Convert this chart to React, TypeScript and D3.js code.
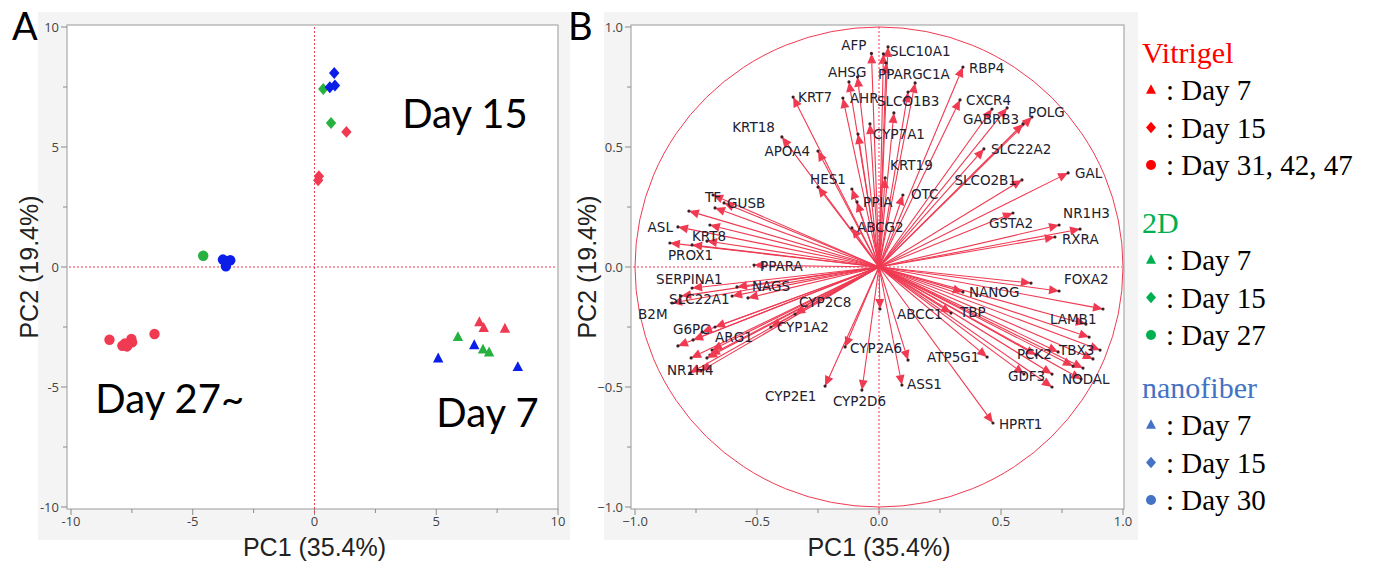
import React from "react";
import * as d3 from "d3";

type Pt = [number, number];

// ---------- Panel A: PCA scores ----------
const vitrigelDay7: Pt[] = [[6.77, -2.3], [6.95, -2.54], [7.82, -2.57]];
const vitrigelDay15: Pt[] = [[1.31, 5.63], [0.18, 3.78], [0.15, 3.61]];
const vitrigelLate: Pt[] = [[-8.42, -3.03], [-7.89, -3.28], [-7.7, -3.31], [-7.52, -3.0], [-7.49, -3.14], [-7.79, -3.19], [-6.57, -2.79]];
const twoDDay7: Pt[] = [[5.89, -2.92], [6.92, -3.44], [7.17, -3.56]];
const twoDDay15: Pt[] = [[0.36, 7.42], [0.68, 6.0]];
const twoDDay27: Pt[] = [[-4.57, 0.47]];
const nanoDay7: Pt[] = [[5.08, -3.81], [6.56, -3.26], [8.35, -4.17]];
const nanoDay15: Pt[] = [[0.81, 8.08], [0.63, 7.49], [0.84, 7.56]];
const nanoDay30: Pt[] = [[-3.76, 0.31], [-3.46, 0.28], [-3.64, 0.03], [-3.58, 0.24]];

const scoreTicks = [-10, -5, 0, 5, 10];
const scoreMinor = [-7.5, -2.5, 2.5, 7.5];
const clusterLabels = ["Day 15", "Day 27~", "Day 7"];

// ---------- Panel B: loadings ----------
const genes: string[] = [
  "AFP", "SLC10A1", "", "", "PPARGC1A", "", "AHSG", "", "KRT7", "AHR",
  "SLCO1B3", "CYP7A1", "", "KRT18", "APOA4", "KRT19", "HES1", "", "PPIA", "ABCG2",
  "OTC", "RBP4", "CXCR4", "GABRB3", "", "POLG", "", "SLC22A2", "SLCO2B1", "GAL",
  "GSTA2", "NR1H3", "RXRA", "", "TF", "", "GUSB", "", "ASL", "",
  "KRT8", "", "PROX1", "PPARA", "SERPINA1", "NAGS", "", "SLC22A1", "", "B2M",
  "CYP2C8", "CYP1A2", "G6PC", "", "", "", "ARG1", "", "", "",
  "NR1H4", "", "CYP2A6", "CYP2E1", "CYP2D6", "ABCC1", "", "ASS1", "ATP5G1", "TBP",
  "NANOG", "", "FOXA2", "", "LAMB1", "", "TBX3", "", "", "PCK2",
  "NODAL", "", "", "GDF3", "", "", "HPRT1",
];
const loadPC1: number[] = [
  -0.031, 0.037, 0.018, 0.029, 0.148, 0.119, -0.123, -0.088, -0.352, -0.148,
  0.061, -0.037, -0.086, -0.398, -0.25, 0.025, -0.25, -0.111, -0.09, -0.111,
  0.098, 0.344, 0.332, 0.463, 0.525, 0.627, 0.59, 0.43, 0.586, 0.775,
  0.549, 0.738, 0.721, 0.824, -0.68, -0.672, -0.635, -0.779, -0.824, -0.693,
  -0.705, -0.766, -0.857, -0.512, -0.766, -0.582, -0.537, -0.602, -0.811, -0.848,
  -0.344, -0.443, -0.672, -0.725, -0.762, -0.824, -0.684, -0.693, -0.705, -0.77,
  -0.73, -0.775, -0.139, -0.221, -0.07, 0.004, 0.119, 0.094, 0.443, 0.295,
  0.344, 0.623, 0.738, 0.918, 0.848, 0.861, 0.906, 0.877, 0.734, 0.643,
  0.836, 0.795, 0.828, 0.594, 0.709, 0.709, 0.467,
];
const loadPC2: number[] = [
  0.89, 0.917, 0.888, 0.85, 0.767, 0.729, 0.771, 0.792, 0.708, 0.704,
  0.642, 0.596, 0.554, 0.542, 0.483, 0.371, 0.333, 0.325, 0.271, 0.163,
  0.3, 0.833, 0.696, 0.658, 0.663, 0.625, 0.596, 0.492, 0.363, 0.392,
  0.225, 0.175, 0.125, 0.158, 0.3, 0.246, 0.267, 0.233, 0.167, 0.175,
  0.108, 0.092, 0.1, 0.008, -0.088, -0.083, -0.129, -0.121, -0.121, -0.15,
  -0.196, -0.25, -0.25, -0.271, -0.304, -0.329, -0.346, -0.367, -0.379, -0.379,
  -0.433, -0.442, -0.333, -0.496, -0.513, -0.175, -0.388, -0.492, -0.375, -0.192,
  -0.104, -0.067, -0.1, -0.175, -0.238, -0.292, -0.346, -0.383, -0.354, -0.367,
  -0.421, -0.413, -0.467, -0.446, -0.446, -0.5, -0.65,
];
const loadTicks = [-1, -0.5, 0, 0.5, 1];
const loadMinor = [-0.75, -0.25, 0.25, 0.75];

// label placement (pixel offsets from arrow tip) – layout only
const labelLayout: Record<string, [number, number, "start" | "end"]> = {
  AFP: [-5, -8, "end"], SLC10A1: [2, 4, "start"], PPARGC1A: [-37, -9, "start"],
  AHSG: [-21, -10, "start"], KRT7: [5, 0, "start"], AHR: [7, 0, "start"],
  SLCO1B3: [-17, -12, "start"], CYP7A1: [3, 10, "start"], KRT18: [-7, -10, "end"],
  APOA4: [-8, 0, "end"], KRT19: [5, -13, "start"], HES1: [-8, -8, "start"],
  PPIA: [6, 0, "start"], ABCG2: [5, -1, "start"], OTC: [8, -1, "start"],
  RBP4: [6, 1, "start"], CXCR4: [6, 0, "start"], GABRB3: [-29, 10, "start"],
  POLG: [-4, -5, "start"], SLC22A2: [7, 0, "start"], SLCO2B1: [-5, 0, "end"],
  GAL: [7, 0, "start"], GSTA2: [-24, 10, "start"], NR1H3: [4, -12, "start"],
  RXRA: [7, 2, "start"], TF: [-8, 2, "start"], GUSB: [3, 0, "start"],
  ASL: [-5, 0, "end"], KRT8: [-15, -5, "start"], PROX1: [-2, 12, "start"],
  PPARA: [6, 1, "start"], SERPINA1: [-36, -9, "start"], NAGS: [15, -1, "start"],
  SLC22A1: [-63, 3, "start"], B2M: [-34, 11, "start"], CYP2C8: [4, -12, "start"],
  CYP1A2: [6, 0, "start"], G6PC: [-42, 2, "start"], ARG1: [3, -13, "start"],
  NR1H4: [-34, -1, "start"], CYP2A6: [5, 1, "start"], CYP2E1: [-60, 10, "start"],
  CYP2D6: [-29, 11, "start"], ABCC1: [17, 5, "start"], ASS1: [5, -1, "start"],
  ATP5G1: [-60, 0, "start"], TBP: [9, -1, "start"], NANOG: [6, 0, "start"],
  FOXA2: [5, -12, "start"], LAMB1: [-36, -5, "start"], TBX3: [-41, 0, "start"],
  PCK2: [-19, -1, "start"], NODAL: [-21, 11, "start"], GDF3: [-16, 2, "start"],
  HPRT1: [6, 1, "start"],
};

// ---------- Legend ----------
const legendGroups = ["Vitrigel", "2D", "nanofiber"];
const legendItems: string[][] = [
  ["Day 7", "Day 15", "Day 31, 42, 47"],
  ["Day 7", "Day 15", "Day 27"],
  ["Day 7", "Day 15", "Day 30"],
];

const RED = "#ef3a52";
const GREEN = "#27b141";
const BLUE = "#0a1ee8";
const LEG_COLORS = ["#ff0000", "#00b050", "#4472c4"];
const TICK_FONT = "'Open Sans', sans-serif";
const TITLE_FONT = "'Liberation Sans', Arial, sans-serif";

function Marker({ shape, x, y, r, fill }: { shape: string; x: number; y: number; r: number; fill: string }) {
  if (shape === "circle") return <circle cx={x} cy={y} r={r} fill={fill} />;
  if (shape === "diamond")
    return <path d={`M${x},${y - r * 1.15}L${x + r},${y}L${x},${y + r * 1.15}L${x - r},${y}Z`} fill={fill} />;
  const h = r * 1.9;
  return <path d={`M${x},${y - h * 0.6}L${x + r},${y + h * 0.4}L${x - r},${y + h * 0.4}Z`} fill={fill} />;
}

export default function App() {
  // Panel A scales
  const ax = d3.scaleLinear().domain([-10, 10]).range([71, 558]);
  const ay = d3.scaleLinear().domain([-10, 10]).range([507, 27]);
  // Panel B scales
  const bx = d3.scaleLinear().domain([-1, 1]).range([635, 1123]);
  const by = d3.scaleLinear().domain([-1, 1]).range([507, 27]);

  const aFrame = { x0: ax(-10) - 4, x1: ax(10), y0: ay(10) - 2, y1: ay(-10) + 2 };
  const bFrame = { x0: bx(-1) - 4, x1: bx(1) + 1, y0: by(1) - 2, y1: by(-1) + 2 };

  const scoreSeries: { pts: Pt[]; shape: string; color: string }[] = [
    { pts: vitrigelDay7, shape: "triangle", color: RED },
    { pts: vitrigelDay15, shape: "diamond", color: RED },
    { pts: vitrigelLate, shape: "circle", color: RED },
    { pts: twoDDay7, shape: "triangle", color: GREEN },
    { pts: twoDDay15, shape: "diamond", color: GREEN },
    { pts: twoDDay27, shape: "circle", color: GREEN },
    { pts: nanoDay7, shape: "triangle", color: BLUE },
    { pts: nanoDay15, shape: "diamond", color: BLUE },
    { pts: nanoDay30, shape: "circle", color: BLUE },
  ];

  const fmt = d3.format(".1f");

  const axisFrame = (
    f: { x0: number; x1: number; y0: number; y1: number },
    xs: d3.ScaleLinear<number, number>,
    ys: d3.ScaleLinear<number, number>,
    ticks: number[],
    minor: number[],
    label: (v: number) => string
  ) => (
    <g>
      <rect x={f.x0} y={f.y0} width={f.x1 - f.x0} height={f.y1 - f.y0} fill="#fff" stroke="#a9a9a9" strokeWidth={1.2} />
      {ticks.map((t) => (
        <g key={"y" + t}>
          <line x1={f.x0 - 6} x2={f.x0} y1={ys(t)} y2={ys(t)} stroke="#8a8a8a" />
          <text x={f.x0 - 8} y={ys(t)} dy="0.35em" textAnchor="end" fontSize={13} fontFamily={TICK_FONT} fill="#444">
            {label(t)}
          </text>
        </g>
      ))}
      {minor.map((t) => (
        <line key={"ym" + t} x1={f.x0 - 4} x2={f.x0} y1={ys(t)} y2={ys(t)} stroke="#8a8a8a" />
      ))}
      {ticks.map((t) => (
        <g key={"x" + t}>
          <line x1={xs(t)} x2={xs(t)} y1={f.y1} y2={f.y1 + 6} stroke="#8a8a8a" />
          <text x={xs(t)} y={f.y1 + 17} textAnchor="middle" fontSize={13} fontFamily={TICK_FONT} fill="#444">
            {label(t)}
          </text>
        </g>
      ))}
      {minor.map((t) => (
        <line key={"xm" + t} x1={xs(t)} x2={xs(t)} y1={f.y1} y2={f.y1 + 4} stroke="#8a8a8a" />
      ))}
      <line x1={f.x0 + 2} x2={f.x1 - 2} y1={ys(0)} y2={ys(0)} stroke={RED} strokeWidth={1} strokeDasharray="2,2" />
      <line x1={xs(0)} x2={xs(0)} y1={f.y0 + 2} y2={f.y1 + 6} stroke={RED} strokeWidth={1} strokeDasharray="2,2" />
    </g>
  );

  const ox = bx(0), oy = by(0);
  const arrows = genes.map((g, i) => {
    const tx = bx(loadPC1[i]);
    const ty = by(loadPC2[i]);
    const ang = Math.atan2(ty - oy, tx - ox);
    const L = 10, W = 4.5;
    const bxp = tx - L * Math.cos(ang), byp = ty - L * Math.sin(ang);
    const px = -Math.sin(ang) * W, py = Math.cos(ang) * W;
    const head = `M${tx},${ty}L${bxp + px},${byp + py}L${bxp - px},${byp - py}Z`;
    return { g, tx, ty, head, bxp, byp };
  });

  const lineStart = [52, 222, 387];

  return (
    <svg width={1384} height={572} style={{ position: "absolute", left: 0, top: 0, background: "#fff" }}>
      {/* backgrounds */}
      <rect x={38} y={12} width={532} height={528} fill="#f4f4f4" />
      <rect x={604} y={12} width={534} height={528} fill="#f4f4f4" />

      {/* ===== Panel A ===== */}
      {axisFrame(aFrame, ax, ay, scoreTicks, scoreMinor, (v) => String(v))}
      {scoreSeries.map((s, si) =>
        s.pts.map((p, pi) => (
          <Marker key={si + "-" + pi} shape={s.shape} x={ax(p[0])} y={ay(p[1])} r={5.2} fill={s.color} />
        ))
      )}
      <text x={ax(3.6)} y={ay(5.8)} fontSize={40} fontFamily="Lato, sans-serif" fill="#000">{clusterLabels[0]}</text>
      <text x={ax(-9.0)} y={ay(-6.1)} fontSize={40} fontFamily="Lato, sans-serif" fill="#000">{clusterLabels[1]}</text>
      <text x={ax(5.0)} y={ay(-6.65)} fontSize={40} fontFamily="Lato, sans-serif" fill="#000">{clusterLabels[2]}</text>
      <text x={12} y={40} fontSize={38} fontFamily="Lato, sans-serif" fill="#000">A</text>
      <text x={ax(0)} y={556} textAnchor="middle" fontSize={25} fontFamily={TITLE_FONT} fill="#222">PC1 (35.4%)</text>
      <text transform={`translate(38,${ay(0)}) rotate(-90)`} textAnchor="middle" fontSize={25} fontFamily={TITLE_FONT} fill="#222">PC2 (19.4%)</text>

      {/* ===== Panel B ===== */}
      {axisFrame(bFrame, bx, by, loadTicks, loadMinor, (v) => fmt(v))}
      <ellipse cx={bx(0)} cy={by(0)} rx={bx(1) - bx(0)} ry={by(0) - by(1)} fill="none" stroke={RED} strokeWidth={1} />
      {arrows.map((a, i) => (
        <line key={"l" + i} x1={ox} y1={oy} x2={a.bxp} y2={a.byp} stroke={RED} strokeWidth={1.1} />
      ))}
      {arrows.map((a, i) => (
        <g key={"h" + i}>
          <path d={a.head} fill={RED} />
          <circle cx={a.tx} cy={a.ty} r={1.6} fill="#3b1d22" />
        </g>
      ))}
      {arrows.map((a, i) => {
        if (!a.g) return null;
        const lay = labelLayout[a.g] || [6, 0, "start"];
        return (
          <text key={"t" + i} x={a.tx + lay[0]} y={a.ty + lay[1]} dy="0.35em" textAnchor={lay[2]}
            fontSize={13.5} fontFamily="'DejaVu Sans', sans-serif" fill="#202030">
            {a.g}
          </text>
        );
      })}
      <text x={568} y={40} fontSize={38} fontFamily="Lato, sans-serif" fill="#000">B</text>
      <text x={bx(0)} y={556} textAnchor="middle" fontSize={25} fontFamily={TITLE_FONT} fill="#222">PC1 (35.4%)</text>
      <text transform={`translate(596,${by(0)}) rotate(-90)`} textAnchor="middle" fontSize={25} fontFamily={TITLE_FONT} fill="#222">PC2 (19.4%)</text>

      {/* ===== Legend ===== */}
      {legendGroups.map((g, gi) => (
        <g key={g}>
          <text x={1142} y={lineStart[gi] + 11} fontSize={30} fontFamily="'Liberation Serif', serif" fill={LEG_COLORS[gi]}>{g}</text>
          {legendItems[gi].map((it, ii) => {
            const base = lineStart[gi] + 48 + ii * 37.5;
            const shape = ["triangle", "diamond", "circle"][ii];
            return (
              <g key={it + ii}>
                <Marker shape={shape} x={1151} y={base - 10} r={5} fill={LEG_COLORS[gi]} />
                <text x={1166} y={base} fontSize={29} fontFamily="'Liberation Serif', serif" fill="#000">{": " + it}</text>
              </g>
            );
          })}
        </g>
      ))}
    </svg>
  );
}
